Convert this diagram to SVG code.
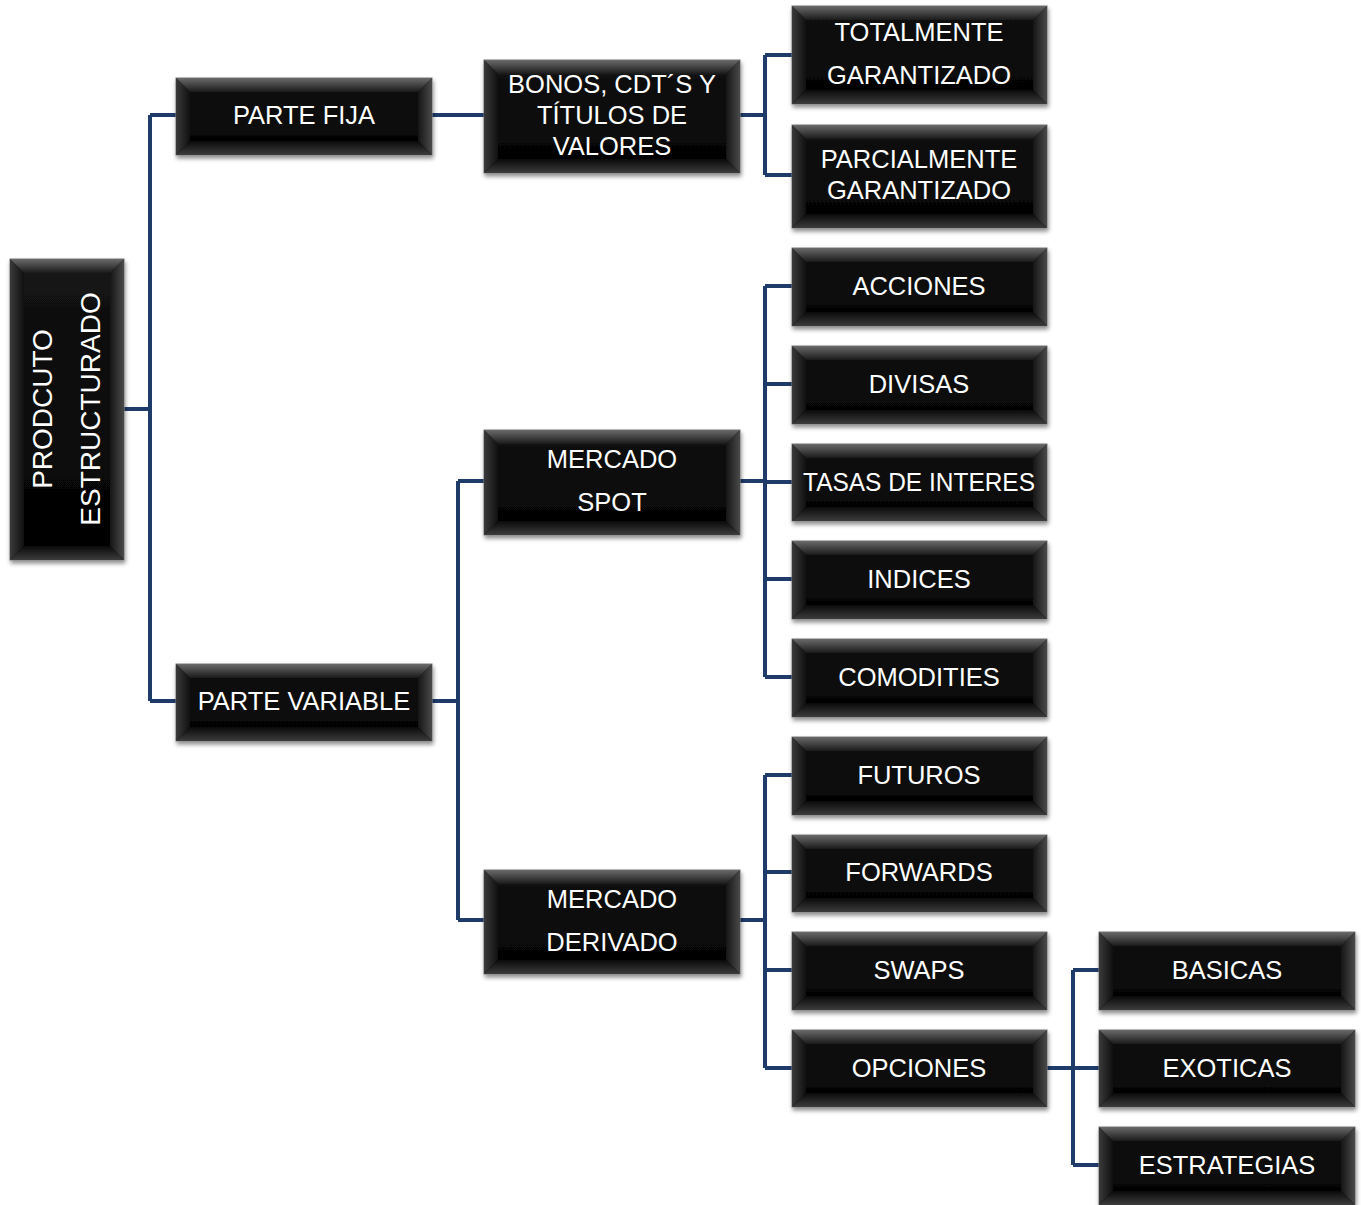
<svg xmlns="http://www.w3.org/2000/svg" width="1361" height="1205" viewBox="0 0 1361 1205">
<defs>
<linearGradient id="gFace" x1="0" y1="0" x2="0" y2="1"><stop offset="0" stop-color="#141414"/><stop offset="1" stop-color="#020202"/></linearGradient>
<linearGradient id="gTop" x1="0" y1="0" x2="0" y2="1"><stop offset="0" stop-color="#6a6a6a"/><stop offset="1" stop-color="#1a1a1a"/></linearGradient>
<linearGradient id="gLeft" x1="0" y1="0" x2="1" y2="0"><stop offset="0" stop-color="#3a3a3a"/><stop offset="1" stop-color="#101010"/></linearGradient>
<linearGradient id="gRight" x1="1" y1="0" x2="0" y2="0"><stop offset="0" stop-color="#4a4a4a"/><stop offset="1" stop-color="#151515"/></linearGradient>
<linearGradient id="gBot" x1="0" y1="1" x2="0" y2="0"><stop offset="0" stop-color="#3c3c3c"/><stop offset="1" stop-color="#0a0a0a"/></linearGradient>
<filter id="sh" x="-10%" y="-10%" width="120%" height="130%"><feDropShadow dx="1" dy="3" stdDeviation="2" flood-color="#000" flood-opacity="0.45"/></filter>
</defs>
<style>
.face{fill:url(#gFace);stroke:#7a7a7a;stroke-width:1;filter:url(#sh)}
.bt{fill:url(#gTop)}
.bl{fill:url(#gLeft)}
.br{fill:url(#gRight)}
.bb{fill:url(#gBot)}
.t{fill:#fff;font-family:"Liberation Sans",Arial,sans-serif;font-size:25.5px;text-anchor:middle}
.r{font-size:28px}
.c{fill:none;stroke:#1f3b69;stroke-width:4;stroke-linejoin:round}
</style>
<g id="connectors">
<path class="c" d="M124,409H150M150,115V701M150,115H176M150,701H176"/>
<path class="c" d="M432,115H484"/>
<path class="c" d="M740,115H765M765,55V175M765,55H792M765,175H792"/>
<path class="c" d="M432,701H458M458,481V920M458,481H484M458,920H484"/>
<path class="c" d="M740,481H765M765,286V677M765,286H792M765,384H792M765,482H792M765,579H792M765,677H792"/>
<path class="c" d="M740,920H765M765,775V1068M765,775H792M765,872H792M765,970H792M765,1068H792"/>
<path class="c" d="M1047,1068H1073M1073,970V1165M1073,970H1099M1073,1068H1099M1073,1165H1099"/>
</g>
<g id="root">
<rect class="face" x="10" y="259" width="114" height="301"/>
<polygon class="bt" points="10,259 124,259 110,273 24,273"/>
<polygon class="bl" points="10,259 24,273 24,546 10,560"/>
<polygon class="br" points="124,259 124,560 110,546 110,273"/>
<polygon class="bb" points="10,560 24,546 110,546 124,560"/>
<text class="t r" transform="translate(42,409) rotate(-90)" y="10">PRODCUTO</text>
<text class="t r" transform="translate(90,409) rotate(-90)" y="10">ESTRUCTURADO</text>
</g>
<g id="parte-fija">
<rect class="face" x="176" y="78" width="256" height="77"/>
<polygon class="bt" points="176,78 432,78 418,92 190,92"/>
<polygon class="bl" points="176,78 190,92 190,141 176,155"/>
<polygon class="br" points="432,78 432,155 418,141 418,92"/>
<polygon class="bb" points="176,155 190,141 418,141 432,155"/>
<text class="t" x="304" y="124">PARTE FIJA</text>
</g>
<g id="parte-variable">
<rect class="face" x="176" y="664" width="256" height="77"/>
<polygon class="bt" points="176,664 432,664 418,678 190,678"/>
<polygon class="bl" points="176,664 190,678 190,727 176,741"/>
<polygon class="br" points="432,664 432,741 418,727 418,678"/>
<polygon class="bb" points="176,741 190,727 418,727 432,741"/>
<text class="t" x="304" y="710">PARTE VARIABLE</text>
</g>
<g id="bonos">
<rect class="face" x="484" y="60" width="256" height="113"/>
<polygon class="bt" points="484,60 740,60 726,74 498,74"/>
<polygon class="bl" points="484,60 498,74 498,159 484,173"/>
<polygon class="br" points="740,60 740,173 726,159 726,74"/>
<polygon class="bb" points="484,173 498,159 726,159 740,173"/>
<text class="t" x="612" y="93">BONOS, CDT´S Y</text>
<text class="t" x="612" y="124">TÍTULOS DE</text>
<text class="t" x="612" y="155">VALORES</text>
</g>
<g id="mercado-spot">
<rect class="face" x="484" y="430" width="256" height="105"/>
<polygon class="bt" points="484,430 740,430 726,444 498,444"/>
<polygon class="bl" points="484,430 498,444 498,521 484,535"/>
<polygon class="br" points="740,430 740,535 726,521 726,444"/>
<polygon class="bb" points="484,535 498,521 726,521 740,535"/>
<text class="t" x="612" y="468">MERCADO</text>
<text class="t" x="612" y="511">SPOT</text>
</g>
<g id="mercado-derivado">
<rect class="face" x="484" y="870" width="256" height="104"/>
<polygon class="bt" points="484,870 740,870 726,884 498,884"/>
<polygon class="bl" points="484,870 498,884 498,960 484,974"/>
<polygon class="br" points="740,870 740,974 726,960 726,884"/>
<polygon class="bb" points="484,974 498,960 726,960 740,974"/>
<text class="t" x="612" y="908">MERCADO</text>
<text class="t" x="612" y="951">DERIVADO</text>
</g>
<g id="totalmente">
<rect class="face" x="792" y="6" width="255" height="98"/>
<polygon class="bt" points="792,6 1047,6 1033,20 806,20"/>
<polygon class="bl" points="792,6 806,20 806,90 792,104"/>
<polygon class="br" points="1047,6 1047,104 1033,90 1033,20"/>
<polygon class="bb" points="792,104 806,90 1033,90 1047,104"/>
<text class="t" x="919" y="41">TOTALMENTE</text>
<text class="t" x="919" y="84">GARANTIZADO</text>
</g>
<g id="parcialmente">
<rect class="face" x="792" y="125" width="255" height="103"/>
<polygon class="bt" points="792,125 1047,125 1033,139 806,139"/>
<polygon class="bl" points="792,125 806,139 806,214 792,228"/>
<polygon class="br" points="1047,125 1047,228 1033,214 1033,139"/>
<polygon class="bb" points="792,228 806,214 1033,214 1047,228"/>
<text class="t" x="919" y="168">PARCIALMENTE</text>
<text class="t" x="919" y="199">GARANTIZADO</text>
</g>
<g id="acciones">
<rect class="face" x="792" y="248" width="255" height="78"/>
<polygon class="bt" points="792,248 1047,248 1033,262 806,262"/>
<polygon class="bl" points="792,248 806,262 806,312 792,326"/>
<polygon class="br" points="1047,248 1047,326 1033,312 1033,262"/>
<polygon class="bb" points="792,326 806,312 1033,312 1047,326"/>
<text class="t" x="919" y="295">ACCIONES</text>
</g>
<g id="divisas">
<rect class="face" x="792" y="346" width="255" height="78"/>
<polygon class="bt" points="792,346 1047,346 1033,360 806,360"/>
<polygon class="bl" points="792,346 806,360 806,410 792,424"/>
<polygon class="br" points="1047,346 1047,424 1033,410 1033,360"/>
<polygon class="bb" points="792,424 806,410 1033,410 1047,424"/>
<text class="t" x="919" y="393">DIVISAS</text>
</g>
<g id="tasas">
<rect class="face" x="792" y="444" width="255" height="77"/>
<polygon class="bt" points="792,444 1047,444 1033,458 806,458"/>
<polygon class="bl" points="792,444 806,458 806,507 792,521"/>
<polygon class="br" points="1047,444 1047,521 1033,507 1033,458"/>
<polygon class="bb" points="792,521 806,507 1033,507 1047,521"/>
<text class="t" x="919" y="491" textLength="232" lengthAdjust="spacingAndGlyphs">TASAS DE INTERES</text>
</g>
<g id="indices">
<rect class="face" x="792" y="541" width="255" height="78"/>
<polygon class="bt" points="792,541 1047,541 1033,555 806,555"/>
<polygon class="bl" points="792,541 806,555 806,605 792,619"/>
<polygon class="br" points="1047,541 1047,619 1033,605 1033,555"/>
<polygon class="bb" points="792,619 806,605 1033,605 1047,619"/>
<text class="t" x="919" y="588">INDICES</text>
</g>
<g id="comodities">
<rect class="face" x="792" y="639" width="255" height="78"/>
<polygon class="bt" points="792,639 1047,639 1033,653 806,653"/>
<polygon class="bl" points="792,639 806,653 806,703 792,717"/>
<polygon class="br" points="1047,639 1047,717 1033,703 1033,653"/>
<polygon class="bb" points="792,717 806,703 1033,703 1047,717"/>
<text class="t" x="919" y="686">COMODITIES</text>
</g>
<g id="futuros">
<rect class="face" x="792" y="737" width="255" height="78"/>
<polygon class="bt" points="792,737 1047,737 1033,751 806,751"/>
<polygon class="bl" points="792,737 806,751 806,801 792,815"/>
<polygon class="br" points="1047,737 1047,815 1033,801 1033,751"/>
<polygon class="bb" points="792,815 806,801 1033,801 1047,815"/>
<text class="t" x="919" y="784">FUTUROS</text>
</g>
<g id="forwards">
<rect class="face" x="792" y="835" width="255" height="77"/>
<polygon class="bt" points="792,835 1047,835 1033,849 806,849"/>
<polygon class="bl" points="792,835 806,849 806,898 792,912"/>
<polygon class="br" points="1047,835 1047,912 1033,898 1033,849"/>
<polygon class="bb" points="792,912 806,898 1033,898 1047,912"/>
<text class="t" x="919" y="881">FORWARDS</text>
</g>
<g id="swaps">
<rect class="face" x="792" y="932" width="255" height="78"/>
<polygon class="bt" points="792,932 1047,932 1033,946 806,946"/>
<polygon class="bl" points="792,932 806,946 806,996 792,1010"/>
<polygon class="br" points="1047,932 1047,1010 1033,996 1033,946"/>
<polygon class="bb" points="792,1010 806,996 1033,996 1047,1010"/>
<text class="t" x="919" y="979">SWAPS</text>
</g>
<g id="opciones">
<rect class="face" x="792" y="1030" width="255" height="77"/>
<polygon class="bt" points="792,1030 1047,1030 1033,1044 806,1044"/>
<polygon class="bl" points="792,1030 806,1044 806,1093 792,1107"/>
<polygon class="br" points="1047,1030 1047,1107 1033,1093 1033,1044"/>
<polygon class="bb" points="792,1107 806,1093 1033,1093 1047,1107"/>
<text class="t" x="919" y="1077">OPCIONES</text>
</g>
<g id="basicas">
<rect class="face" x="1099" y="932" width="256" height="78"/>
<polygon class="bt" points="1099,932 1355,932 1341,946 1113,946"/>
<polygon class="bl" points="1099,932 1113,946 1113,996 1099,1010"/>
<polygon class="br" points="1355,932 1355,1010 1341,996 1341,946"/>
<polygon class="bb" points="1099,1010 1113,996 1341,996 1355,1010"/>
<text class="t" x="1227" y="979">BASICAS</text>
</g>
<g id="exoticas">
<rect class="face" x="1099" y="1030" width="256" height="77"/>
<polygon class="bt" points="1099,1030 1355,1030 1341,1044 1113,1044"/>
<polygon class="bl" points="1099,1030 1113,1044 1113,1093 1099,1107"/>
<polygon class="br" points="1355,1030 1355,1107 1341,1093 1341,1044"/>
<polygon class="bb" points="1099,1107 1113,1093 1341,1093 1355,1107"/>
<text class="t" x="1227" y="1077">EXOTICAS</text>
</g>
<g id="estrategias">
<rect class="face" x="1099" y="1127" width="256" height="78"/>
<polygon class="bt" points="1099,1127 1355,1127 1341,1141 1113,1141"/>
<polygon class="bl" points="1099,1127 1113,1141 1113,1191 1099,1205"/>
<polygon class="br" points="1355,1127 1355,1205 1341,1191 1341,1141"/>
<polygon class="bb" points="1099,1205 1113,1191 1341,1191 1355,1205"/>
<text class="t" x="1227" y="1174">ESTRATEGIAS</text>
</g>
</svg>
